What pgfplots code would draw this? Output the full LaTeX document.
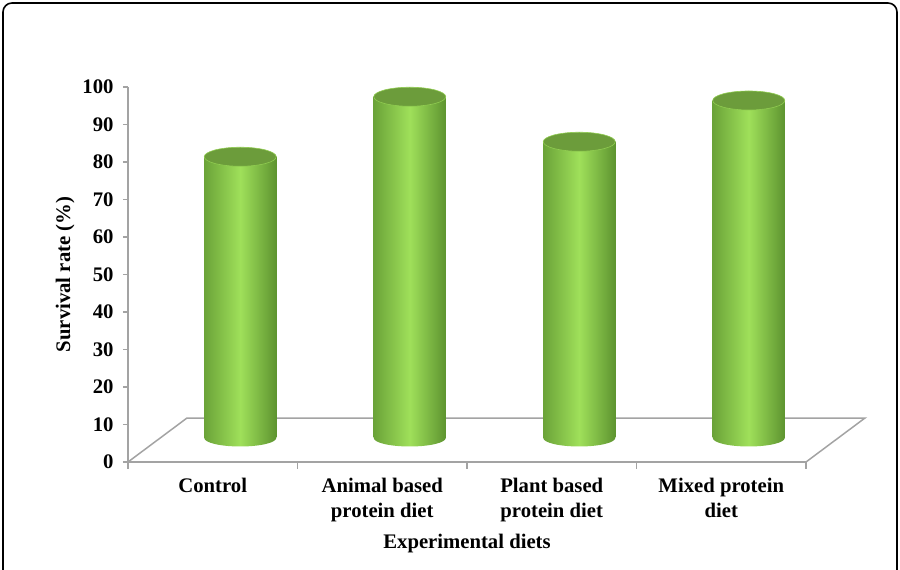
\documentclass[border=0pt]{standalone}
\usepackage{pgfplots}
\pgfplotsset{compat=1.18}
\usepackage{pgfplotstable}
\usepackage{fontspec}
\setmainfont{Liberation Serif}
\usetikzlibrary{shapes.geometric}
\definecolor{axgray}{HTML}{A3A3A3}
\definecolor{gdark}{HTML}{5E9430}
\definecolor{glight}{HTML}{9FE05A}
\definecolor{gtop}{HTML}{6C9C3B}

\pgfplotstableread{
x v
0 75
1 91
2 79
3 90
}\survival

\newcommand{\lblfont}{\fontsize{20.7}{25}\selectfont\bfseries}

\begin{document}
\begin{tikzpicture}[x=1pt,y=1pt]
\useasboundingbox (0,0) rectangle (900,570);
\draw[line width=1.6pt, rounded corners=9pt] (3,-12) rectangle (897,567);
\begin{axis}[
  at={(128pt,108pt)}, anchor=south west,
  scale only axis, width=678pt, height=375pt,
  xmin=-0.5, xmax=3.5, ymin=0, ymax=100,
  axis x line*=bottom, axis y line*=left,
  axis line style={-, draw=axgray, line width=1.5pt},
  ytick={0,10,...,100},
  xtick={0,1,2,3},
  xticklabels={Control,{Animal based\\protein diet},{Plant based\\protein diet},{Mixed protein\\diet}},
  minor xtick={-0.5,0.5,1.5,2.5,3.5},
  tick align=outside,
  major tick length=5pt, minor tick length=7pt,
  major x tick style={draw=none},
  tick style={draw=axgray, line width=1.3pt},
  /pgf/number format/assume math mode=true,
  yticklabel style={font=\lblfont, xshift=-6pt},
  xticklabel style={font=\lblfont, align=center, yshift=-8pt},
  xlabel={Experimental diets}, ylabel={Survival rate (\%)},
  xlabel style={font=\lblfont, yshift=-5pt},
  ylabel style={font=\lblfont, yshift=1pt},
  clip=false,
]
\draw[axgray, line width=1.5pt] (axis cs:-0.5,0) -- (axis cs:-0.152,11.73) -- (axis cs:3.848,11.73) -- (axis cs:3.5,0);
\end{axis}
\begin{axis}[
  at={(155.5pt,132pt)}, anchor=south west,
  scale only axis, width=678pt, height=375pt,
  xmin=-0.5, xmax=3.5, ymin=0, ymax=100,
  hide axis, clip=false,
  cyl/.style={ybar, bar width=0.425, bar shift=0pt, draw=none,
    left color=gdark!80!glight, right color=gdark, middle color=glight},
]
% bottom ellipses of cylinders
\addplot[draw=none, mark=none, nodes near coords={}, nodes near coords align={center},
  every node near coord/.style={ellipse, inner sep=0pt, minimum width=72pt, minimum height=17pt,
  left color=gdark!80!glight, right color=gdark, middle color=glight}]
  coordinates {(0,0) (1,0) (2,0) (3,0)};
% cylinder bodies, one per bar so that each has its own shading
\addplot[cyl] coordinates {(0,75)};
\addplot[cyl] coordinates {(1,91)};
\addplot[cyl] coordinates {(2,79)};
\addplot[cyl] coordinates {(3,90)};
% top ellipses
\addplot[draw=none, mark=none, nodes near coords={}, nodes near coords align={center},
  every node near coord/.style={ellipse, inner sep=0pt, minimum width=72pt, minimum height=19pt,
  fill=gtop, draw=glight!70!gtop, line width=0.6pt}]
  table[x=x, y=v] {\survival};
\end{axis}
\end{tikzpicture}
\end{document}
